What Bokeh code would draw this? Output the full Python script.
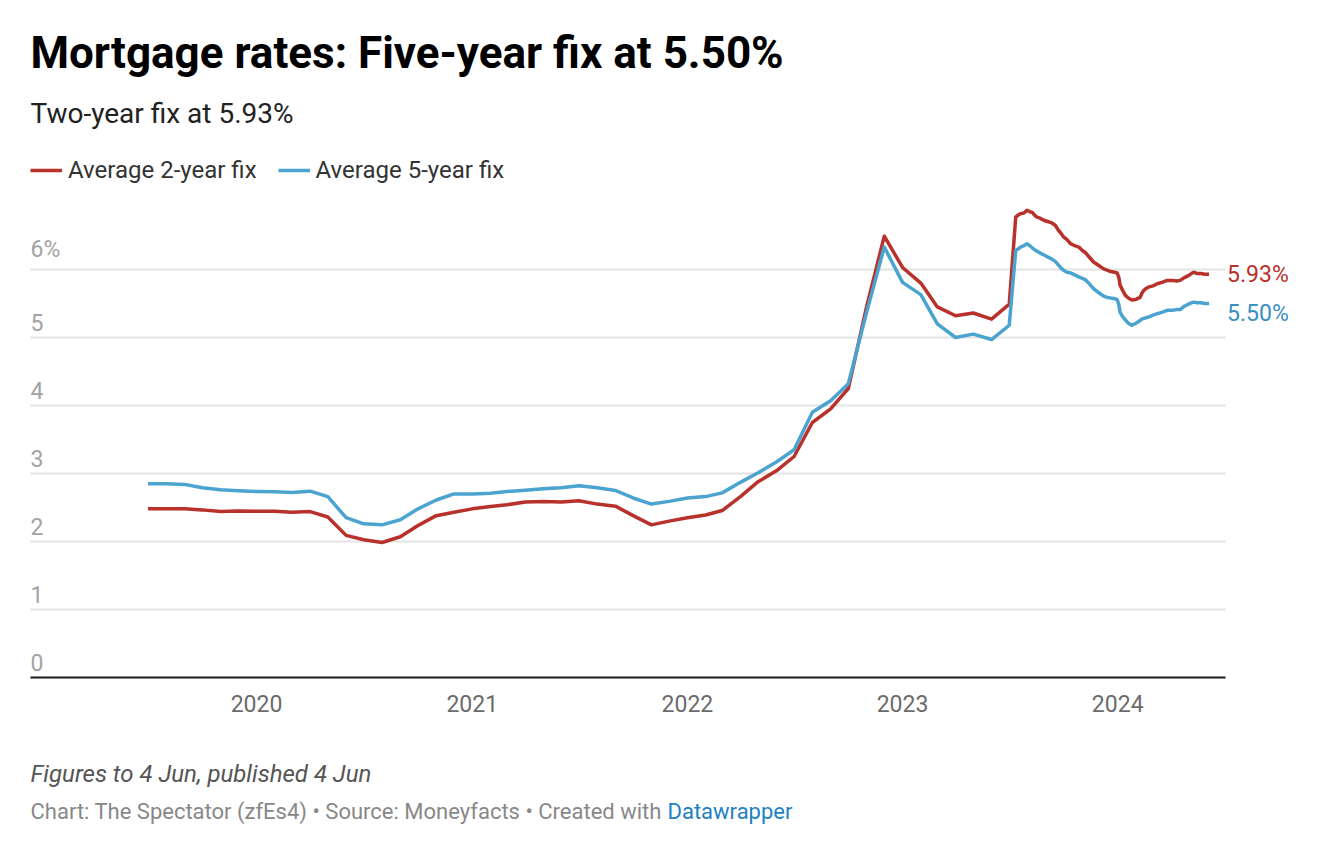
import pandas as pd
from bokeh.plotting import figure
from bokeh.models import Label, Range1d, ColumnDataSource, Legend, LegendItem
from bokeh.embed import file_html
from bokeh.resources import INLINE

# ---------------- data ----------------
monthly_dates = list(pd.date_range("2019-07-01", "2023-07-01", freq="MS").strftime("%Y-%m-%d"))
two_year_monthly = [2.48, 2.48, 2.48, 2.465, 2.44, 2.45,
                    2.445, 2.445, 2.43, 2.44, 2.36, 2.09, 2.025, 1.985, 2.07, 2.235, 2.38, 2.43,
                    2.48, 2.515, 2.54, 2.58, 2.59, 2.58, 2.60, 2.55, 2.52, 2.38, 2.245, 2.30,
                    2.35, 2.39, 2.455, 2.66, 2.88, 3.04, 3.25, 3.75, 3.95, 4.25, 5.45, 6.49,
                    6.03, 5.80, 5.45, 5.32, 5.36, 5.27, 5.49]
five_year_monthly = [2.85, 2.85, 2.84, 2.79, 2.76, 2.745,
                     2.735, 2.73, 2.72, 2.74, 2.66, 2.35, 2.26, 2.245, 2.32, 2.48, 2.61, 2.70,
                     2.70, 2.71, 2.735, 2.755, 2.775, 2.79, 2.82, 2.79, 2.75, 2.64, 2.55, 2.59,
                     2.64, 2.66, 2.715, 2.87, 3.01, 3.17, 3.35, 3.90, 4.07, 4.32, 5.37, 6.33,
                     5.81, 5.63, 5.20, 5.00, 5.05, 4.97, 5.18]

daily_dates = ["2023-07-12", "2023-07-16", "2023-07-20", "2023-07-26", "2023-07-31", "2023-08-05",
               "2023-08-09", "2023-08-13", "2023-08-17", "2023-08-21", "2023-08-25", "2023-08-30",
               "2023-09-03", "2023-09-10", "2023-09-17", "2023-09-23", "2023-09-27", "2023-10-01",
               "2023-10-07", "2023-10-13", "2023-10-20", "2023-10-27", "2023-11-02", "2023-11-07",
               "2023-11-14", "2023-11-21", "2023-11-28", "2023-12-08", "2023-12-14", "2023-12-20",
               "2023-12-27", "2023-12-31", "2024-01-03", "2024-01-05", "2024-01-09", "2024-01-14",
               "2024-01-19", "2024-01-25", "2024-02-01", "2024-02-08", "2024-02-11", "2024-02-14",
               "2024-02-18", "2024-02-22", "2024-03-01", "2024-03-08", "2024-03-16", "2024-03-25",
               "2024-04-03", "2024-04-10", "2024-04-16", "2024-04-23", "2024-04-30", "2024-05-05",
               "2024-05-09", "2024-05-15", "2024-05-21", "2024-05-28", "2024-06-04"]
two_year_daily = [6.77, 6.80, 6.82, 6.83, 6.87, 6.85, 6.84, 6.80, 6.77, 6.76, 6.74, 6.72,
                  6.71, 6.69, 6.65, 6.57, 6.53, 6.48, 6.44, 6.38, 6.35, 6.33, 6.28, 6.25,
                  6.18, 6.11, 6.07, 6.01, 5.99, 5.97, 5.96, 5.95, 5.88, 5.77, 5.70, 5.62,
                  5.58, 5.55, 5.56, 5.59, 5.65, 5.69, 5.72, 5.74, 5.76, 5.79, 5.81, 5.84,
                  5.84, 5.83, 5.84, 5.88, 5.91, 5.94, 5.96, 5.94, 5.94, 5.93, 5.93]
five_year_daily = [6.28, 6.30, 6.33, 6.35, 6.38, 6.35, 6.32, 6.29, 6.27, 6.25, 6.23, 6.21,
                   6.19, 6.16, 6.12, 6.06, 6.02, 5.99, 5.96, 5.95, 5.92, 5.89, 5.87, 5.85,
                   5.79, 5.72, 5.67, 5.61, 5.59, 5.58, 5.57, 5.56, 5.48, 5.37, 5.31, 5.26,
                   5.21, 5.18, 5.21, 5.25, 5.27, 5.28, 5.29, 5.30, 5.33, 5.35, 5.37, 5.40,
                   5.40, 5.41, 5.41, 5.46, 5.49, 5.51, 5.52, 5.51, 5.51, 5.50, 5.50]

series_names = ["Average 2-year fix", "Average 5-year fix"]
end_labels = ["5.93%", "5.50%"]
year_ticks = ["2020-01-01", "2021-01-01", "2022-01-01", "2023-01-01", "2024-01-01"]
year_labels = ["2020", "2021", "2022", "2023", "2024"]
y_ticks = [0, 1, 2, 3, 4, 5, 6]
y_labels = ["0", "1", "2", "3", "4", "5", "6%"]

RED = "#b8312b"
BLUE = "#4ba3d0"
BLUE_TXT = "#3a8fc2"
FONT = "Roboto"

# ---------------- layout (pixels) ----------------
W, H = 1324, 848
PX_YEAR = 215.3          # pixels per year
X_2020 = 256             # pixel of 1 Jan 2020
Y_ZERO = 677             # pixel of the 0 baseline
PX_UNIT = 68             # pixels per percentage point
CHART_L, CHART_R = 30, 1225

def px_to_date(px):
    return pd.Timestamp("2020-01-01") + pd.Timedelta(days=(px - X_2020) / PX_YEAR * 365.25)

x_start, x_end = px_to_date(0), px_to_date(W)
y_start, y_end = -(H - Y_ZERO) / PX_UNIT, Y_ZERO / PX_UNIT
grid_l, grid_r = px_to_date(CHART_L), px_to_date(CHART_R)

dates = pd.to_datetime(monthly_dates + daily_dates)
src = ColumnDataSource(dict(date=dates,
                            two=two_year_monthly + two_year_daily,
                            five=five_year_monthly + five_year_daily))

p = figure(width=W, height=H, x_axis_type=None, y_axis_type=None,
           output_backend="svg", toolbar_location=None,
           x_range=Range1d(x_start, x_end), y_range=Range1d(y_start, y_end),
           min_border=0)
p.outline_line_color = None
p.grid.visible = False
p.background_fill_color = "white"
p.border_fill_color = "white"

# gridlines + baseline
gsrc = ColumnDataSource(dict(x0=[grid_l] * 6, x1=[grid_r] * 6, y=y_ticks[1:]))
p.segment(x0="x0", x1="x1", y0="y", y1="y", source=gsrc, line_color="#e4e4e4", line_width=2)
p.segment(x0=[grid_l], x1=[grid_r], y0=[0], y1=[0], line_color="#1a1a1a", line_width=2)

# y labels above their gridlines
ysrc = ColumnDataSource(dict(x=[grid_l] * len(y_ticks), y=y_ticks, t=y_labels))
p.text(x="x", y="y", text="t", source=ysrc, text_font={"value": FONT},
       text_font_size="23px", text_color="#a3a3a3", text_baseline="bottom",
       text_align="left", y_offset=-7)

# x tick labels
xsrc = ColumnDataSource(dict(x=pd.to_datetime(year_ticks), y=[0] * len(year_ticks), t=year_labels))
p.text(x="x", y="y", text="t", source=xsrc, text_font={"value": FONT},
       text_font_size="23px", text_color="#6b6b6b", text_baseline="middle",
       text_align="center", y_offset=26)

r2 = p.line("date", "two", source=src, color=RED, line_width=3.5, line_join="round")
r5 = p.line("date", "five", source=src, color=BLUE, line_width=3.5, line_join="round")

# end labels
last_date = dates[-1]
p.add_layout(Label(x=last_date, y=two_year_daily[-1], text=end_labels[0], x_offset=18,
                   text_baseline="middle", text_font=FONT, text_font_size="23px",
                   text_color=RED))
p.add_layout(Label(x=last_date, y=five_year_daily[-1], text=end_labels[1], x_offset=18,
                   y_offset=-10, text_baseline="middle", text_font=FONT,
                   text_font_size="23px", text_color=BLUE_TXT))

# legend
legend = Legend(items=[LegendItem(label=series_names[0], renderers=[r2]),
                       LegendItem(label=series_names[1], renderers=[r5])],
                orientation="horizontal", location=(30, H - 184),
                glyph_width=32, glyph_height=26, label_standoff=6, spacing=21,
                padding=0, margin=0, border_line_color=None, background_fill_alpha=0,
                label_text_font=FONT, label_text_font_size="24px",
                label_text_color="#333333", label_height=26)
p.add_layout(legend, "center")

def lab(text, px, py, size, color, style="normal"):
    p.add_layout(Label(x=px, y=H - py, x_units="screen", y_units="screen",
                       text=text, text_font=FONT, text_font_size=size,
                       text_color=color, text_font_style=style,
                       text_baseline="alphabetic"))

lab("Mortgage rates: Five-year fix at 5.50%", 30, 52, "44px", "#000000", "bold")
lab("Two-year fix at 5.93%", 30, 113, "28px", "#222222")
lab("Figures to 4 Jun, published 4 Jun", 30, 773, "24px", "#555555", "italic")
lab("Chart: The Spectator (zfEs4) • Source: Moneyfacts • Created with", 30, 811, "22px", "#888888")
lab("Datawrapper", 667, 811, "22px", "#1d81c4")

open("out.html", "w").write(file_html(p, INLINE))
